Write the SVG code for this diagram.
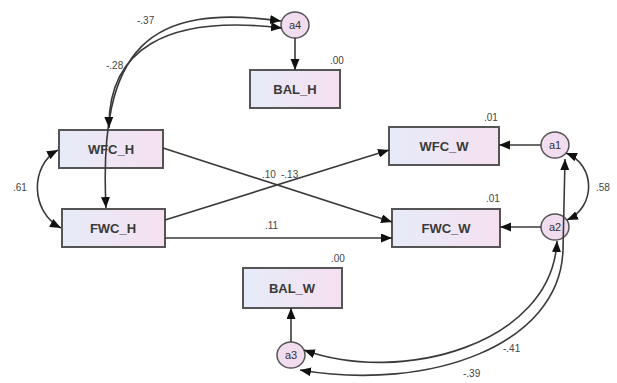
<svg xmlns="http://www.w3.org/2000/svg" width="617" height="383" viewBox="0 0 617 383">
<defs>
<linearGradient id="boxg" x1="0" y1="0" x2="1" y2="0">
<stop offset="0" stop-color="#e6ebf8"/>
<stop offset="1" stop-color="#f6e0f0"/>
</linearGradient>
<marker id="ah" markerUnits="userSpaceOnUse" markerWidth="12" markerHeight="10" refX="11" refY="4.5" orient="auto-start-reverse">
<path d="M0,0 L11,4.5 L0,9 z" fill="#111"/>
</marker>
<style>
.box{fill:url(#boxg);stroke:#555;stroke-width:2}
.circ{fill:#f1dcf0;stroke:#555;stroke-width:1.5}
.lbl{font-family:"Liberation Sans",Arial,sans-serif;font-size:13px;font-weight:bold;fill:#3a3a3a;text-anchor:middle}
.clbl{font-family:"Liberation Sans",Arial,sans-serif;font-size:11px;fill:#333;text-anchor:middle}
.num{font-family:"Liberation Sans",Arial,sans-serif;font-size:10px;fill:#444}
.ln{fill:none;stroke:#3a3a3a;stroke-width:1.6}
</style>
</defs>
<rect width="617" height="383" fill="#fff"/>
<g id="BAL_H"><rect class="box" x="250" y="70" width="90" height="38"/><text class="lbl" x="295" y="94">BAL_H</text><text class="num" x="330" y="64">.00</text></g>
<g id="WFC_H"><rect class="box" x="59" y="130" width="104" height="38"/><text class="lbl" x="111" y="154">WFC_H</text></g>
<g id="FWC_H"><rect class="box" x="62" y="209" width="103" height="38"/><text class="lbl" x="113" y="233">FWC_H</text></g>
<g id="WFC_W"><rect class="box" x="389" y="127" width="110" height="38"/><text class="lbl" x="444" y="151">WFC_W</text><text class="num" x="484" y="121">.01</text></g>
<g id="FWC_W"><rect class="box" x="392" y="209" width="108" height="38"/><text class="lbl" x="446" y="233">FWC_W</text><text class="num" x="486" y="202">.01</text></g>
<g id="BAL_W"><rect class="box" x="243" y="268" width="99" height="40"/><text class="lbl" x="292" y="293">BAL_W</text><text class="num" x="331" y="262">.00</text></g>
<g id="a4"><ellipse class="circ" cx="295" cy="25" rx="14" ry="13"/><text class="clbl" x="295" y="29">a4</text></g>
<g id="a1"><ellipse class="circ" cx="555" cy="145" rx="14" ry="13"/><text class="clbl" x="555" y="149">a1</text></g>
<g id="a2"><ellipse class="circ" cx="555" cy="227" rx="14" ry="13"/><text class="clbl" x="555" y="231">a2</text></g>
<g id="a3"><ellipse class="circ" cx="291" cy="355" rx="14" ry="13"/><text class="clbl" x="291" y="359">a3</text></g>
<g id="connectors">
<path class="ln" d="M163,148 L392,222" marker-end="url(#ah)"/>
<path class="ln" d="M165,220 L389,150" marker-end="url(#ah)"/>
<path class="ln" d="M165,238 L392,238" marker-end="url(#ah)"/>
<path class="ln" d="M541,145 L499,145" marker-end="url(#ah)"/>
<path class="ln" d="M541,227 L500,227" marker-end="url(#ah)"/>
<path class="ln" d="M295,38 L295,70" marker-end="url(#ah)"/>
<path class="ln" d="M291,342 L291,308" marker-end="url(#ah)"/>
<path class="ln" d="M58,150 C30,165 30,212 61,228" marker-start="url(#ah)" marker-end="url(#ah)"/>
<path class="ln" d="M566,153 C596,165 596,207 567,220" marker-start="url(#ah)" marker-end="url(#ah)"/>
<path class="ln" d="M281,21 C150,3 98,45 106,208" marker-start="url(#ah)" marker-end="url(#ah)"/>
<path class="ln" d="M282,28 C165,14 108,50 109,128" marker-start="url(#ah)" marker-end="url(#ah)"/>
<path class="ln" d="M304,350 C400,385 552,345 557,241" marker-start="url(#ah)" marker-end="url(#ah)"/>
<path class="ln" d="M300,370 C430,392 560,345 563,250 L565,159" marker-start="url(#ah)" marker-end="url(#ah)"/>
</g>
<g id="labels">
<text class="num" x="137" y="24">-.37</text>
<text class="num" x="106" y="69">-.28</text>
<text class="num" x="13" y="191">.61</text>
<text class="num" x="262" y="178">.10</text>
<text class="num" x="281" y="178">-.13</text>
<text class="num" x="265" y="229">.11</text>
<text class="num" x="596" y="191">.58</text>
<text class="num" x="503" y="352">-.41</text>
<text class="num" x="463" y="377">-.39</text>
</g>
</svg>
